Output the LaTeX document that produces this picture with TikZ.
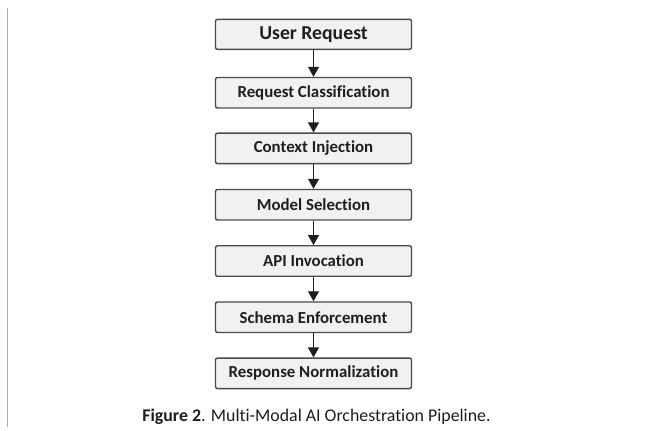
\documentclass[tikz,border=0pt]{standalone}
\usepackage{fontspec}
\setmainfont{Carlito}[Ligatures=NoCommon]
\usetikzlibrary{arrows.meta}
\definecolor{boxfill}{HTML}{F1F1F1}
\definecolor{boxline}{HTML}{4A4A4A}
\definecolor{inktext}{HTML}{1E1E1E}
\definecolor{ruleline}{HTML}{A8A8A8}
\tikzset{
  stagebox/.style={draw=boxline, line width=1.4bp, fill=boxfill, rounded corners=2bp,
    minimum width=196bp, minimum height=30.5bp, inner sep=0pt,
    text=inktext, font=\fontsize{16.9}{18}\selectfont\bfseries},
  flowarrow/.style={draw=inktext, line width=1.3bp,
    -{Triangle[width=11bp,length=10bp]}}
}
\begin{document}
\begin{tikzpicture}[x=1bp,y=-1bp]
  \useasboundingbox[fill=white] (0,0) rectangle (667,430);
  % margin rule on the left
  \draw[ruleline, line width=1.5bp] (7.5,8) -- (7.5,427);
  % pipeline stages
  \node[stagebox, minimum height=30bp, font=\fontsize{19.8}{21}\selectfont\bfseries] (s1) at (313.5,34.3) {User Request};
  \node[stagebox] (s2) at (313.5,92.7) {Request Classification};
  \node[stagebox] (s3) at (313.5,148.4) {Context Injection};
  \node[stagebox] (s4) at (313.5,204.7) {Model Selection};
  \node[stagebox] (s5) at (313.5,261.0) {API Invocation};
  \node[stagebox] (s6) at (313.5,317.2) {Schema Enforcement};
  \node[stagebox] (s7) at (313.5,373.3) {Response Normalization};
  % connectors
  \foreach \a/\b in {s1/s2,s2/s3,s3/s4,s4/s5,s5/s6,s6/s7}
    \draw[flowarrow] (\a.south) -- (\b.north);
  % caption
  \node[anchor=base, text=inktext, font=\fontsize{17.9}{20}\selectfont, inner sep=0pt] (cap) at (316.5,421)
    {\textbf{Figure 2}. Multi-Modal AI Orchestration Pipeline.};
\end{tikzpicture}
\end{document}
